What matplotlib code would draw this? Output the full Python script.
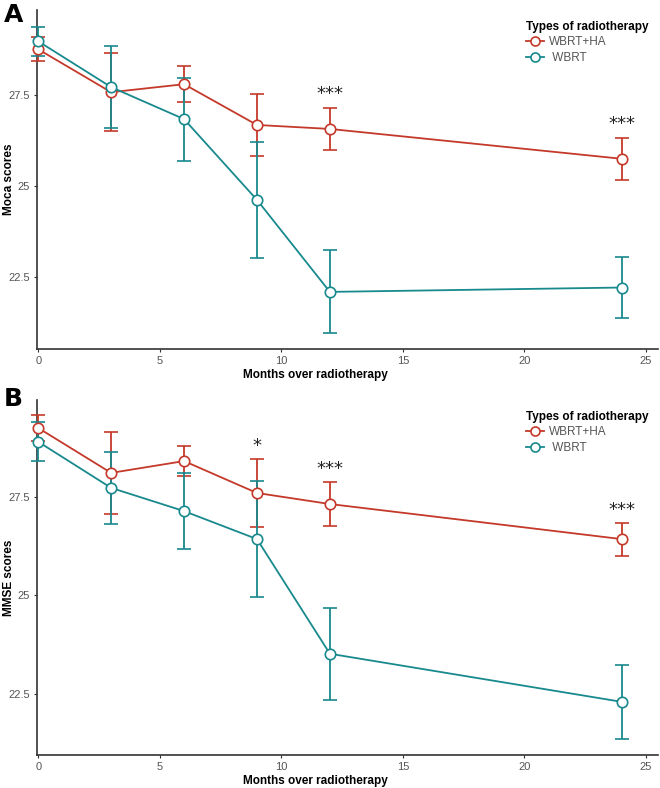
#!/usr/bin/env python3
import numpy as np
import matplotlib.pyplot as plt
from matplotlib import font_manager
from matplotlib.lines import Line2D

# Data (mean +/- error)
months = [0, 3, 6, 9, 12, 24]
groups = ['WBRT+HA', ' WBRT']

moca_ha = [28.76, 27.58, 27.80, 26.68, 26.57, 25.75]
moca_ha_err = [0.33, 1.08, 0.50, 0.85, 0.58, 0.58]
moca_wbrt = [28.98, 27.72, 26.84, 24.62, 22.09, 22.21]
moca_wbrt_err = [0.40, 1.12, 1.14, 1.60, 1.14, 0.84]

mmse_ha = [29.25, 28.11, 28.41, 27.60, 27.32, 26.43]
mmse_ha_err = [0.32, 1.04, 0.38, 0.86, 0.57, 0.42]
mmse_wbrt = [28.90, 27.73, 27.14, 26.43, 23.52, 22.30]
mmse_wbrt_err = [0.50, 0.92, 0.97, 1.48, 1.17, 0.94]

moca_stars = {12: '***', 24: '***'}
mmse_stars = {9: '*', 12: '***', 24: '***'}

RED = '#C4392A'
TEAL = '#18898D'

fams = {f.name for f in font_manager.fontManager.ttflist}
narrow = 'Liberation Sans Narrow' if 'Liberation Sans Narrow' in fams else 'Liberation Sans'
plt.rcParams['font.family'] = [narrow, 'DejaVu Sans']

fig = plt.figure(figsize=(6.6, 7.88), dpi=100)
W, H = 660, 788


def make_axes(top_px, bottom_px):
    return fig.add_axes([37 / W, 1 - bottom_px / H, (658 - 37) / W, (bottom_px - top_px) / H])


def draw_panel(ax, ha, ha_err, wb, wb_err, stars, ylabel, ylim, star_off):
    for vals, errs, col in [(ha, ha_err, RED), (wb, wb_err, TEAL)]:
        ax.errorbar(months, vals, yerr=errs, color=col, lw=1.3, elinewidth=1.3,
                    capsize=5, capthick=1.3, marker='o', ms=7.5, mfc='white',
                    mec=col, mew=1.2, zorder=3, clip_on=False)
    for m, s in stars.items():
        i = months.index(m)
        ax.text(m, ha[i] + ha_err[i] + star_off, s, ha='center', va='bottom',
                fontsize=13, family='DejaVu Sans', color='#222222')
    ax.set_xlim(-0.05, 25.5)
    ax.set_ylim(*ylim)
    ax.set_xticks([0, 5, 10, 15, 20, 25])
    ax.set_yticks([22.5, 25, 27.5])
    ax.set_yticklabels(['22.5', '25', '27.5'])
    for s in ['top', 'right']:
        ax.spines[s].set_visible(False)
    for s in ['left', 'bottom']:
        ax.spines[s].set_color('#333333')
        ax.spines[s].set_linewidth(1.2)
    ax.tick_params(colors='#333333', labelcolor='#555555', labelsize=8, length=2.5,
                   width=0.8, pad=2.5)
    ax.set_ylabel(ylabel, fontsize=8.5, fontweight='bold')
    ax.yaxis.set_label_coords(-0.035, 0.5)
    ax.set_xlabel('Months over radiotherapy', fontsize=8.5, fontweight='bold')
    ax.xaxis.set_label_coords((315 - 37) / 621, -20 / (ax.get_position().height * H))

    handles = [Line2D([], [], color=c, lw=1.3, marker='o', ms=6.5, mfc='white', mec=c, mew=1.2)
               for c in (RED, TEAL)]
    leg = ax.legend(handles, groups, title='Types of radiotherapy', loc='upper left',
                    bbox_to_anchor=(0.77, 1.0), frameon=False, fontsize=8.5,
                    handlelength=1.5, handletextpad=0.5, labelspacing=0.3,
                    title_fontproperties={'weight': 'bold', 'size': 8.5})
    leg._legend_box.align = 'left'
    for t in leg.get_texts():
        t.set_color('#555555')


axA = make_axes(10, 349)
draw_panel(axA, moca_ha, moca_ha_err, moca_wbrt, moca_wbrt_err, moca_stars,
           'Moca scores', (20.52, 29.84), 0.12)
axB = make_axes(400, 755)
draw_panel(axB, mmse_ha, mmse_ha_err, mmse_wbrt, mmse_wbrt_err, mmse_stars,
           'MMSE scores', (20.95, 29.96), 0.1)

fig.text(4 / W, 1 - 15 / H, 'A', fontsize=18, fontweight='bold', family='DejaVu Sans', va='center')
fig.text(4 / W, 1 - 399 / H, 'B', fontsize=18, fontweight='bold', family='DejaVu Sans', va='center')

fig.savefig('out.png', dpi=100)
